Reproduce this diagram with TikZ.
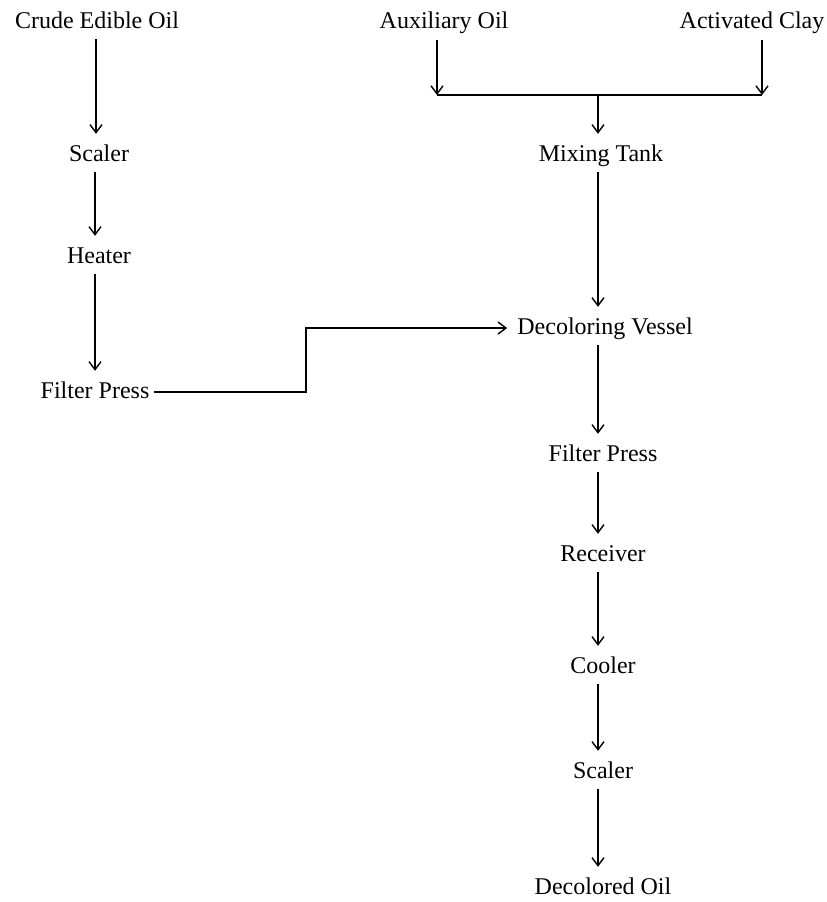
\documentclass[tikz,border=0pt]{standalone}
\usepackage{fontspec}
\setmainfont{Liberation Serif}
\usetikzlibrary{arrows.meta}
\tikzset{
  lbl/.style={inner sep=0pt, text height=17pt, text depth=5pt, font=\fontsize{24}{28}\selectfont},
  flow/.style={line width=1.4pt, -{Straight Barb[length=8pt,width=12pt,line width=1.4pt]}, shorten <=6pt, shorten >=10pt},
  feed/.style={line width=1.4pt, -{Straight Barb[length=8pt,width=12pt,line width=1.4pt]}},
  pipe/.style={line width=1.4pt}
}
\begin{document}
\begin{tikzpicture}[x=1pt,y=-1pt]
\useasboundingbox (0,0) rectangle (827,902);
% left column
\node[lbl] (crude) at (97,22) {Crude Edible Oil};
\node[lbl] (scl1) at (99,155) {Scaler};
\node[lbl] (heat) at (99,257) {Heater};
\node[lbl] (fp1) at (95,392) {Filter Press};
% top right
\node[lbl] (aux) at (444,22) {Auxiliary Oil};
\node[lbl] (clay) at (752,22) {Activated Clay};
% main column
\node[lbl] (mix) at (601,155) {Mixing Tank};
\node[lbl] (dv) at (605,328) {Decoloring Vessel};
\node[lbl] (fp2) at (603,455) {Filter Press};
\node[lbl] (recv) at (603,555) {Receiver};
\node[lbl] (cool) at (603,667) {Cooler};
\node[lbl] (scl2) at (603,772) {Scaler};
\node[lbl] (dec) at (603,888) {Decolored Oil};
% junction points
\coordinate (jl) at (437,95);
\coordinate (jr) at (762,95);
\coordinate (jm) at (598,95);
\coordinate (bendx) at (306,0);
% left chain
\draw[flow] (crude.south -| 96,0) -- (scl1.north -| 96,0);
\draw[flow] (scl1.south -| 95,0) -- (heat.north -| 95,0);
\draw[flow] (heat.south -| 95,0) -- (fp1.north -| 95,0);
\draw[flow, shorten <=4pt] (fp1.east) -- (fp1.east -| bendx) |- (dv.west);
% feeds
\draw[feed] (aux.south -| jl) ++(0,7) -- (jl);
\draw[feed] (clay.south -| jr) ++(0,7) -- (jr);
\draw[pipe] (jl) -- (jr);
\draw[flow, shorten <=0pt] (jm) -- (mix.north -| jm);
% main chain
\draw[flow] (mix.south -| jm) -- (dv.north -| jm);
\draw[flow] (dv.south -| jm) -- (fp2.north -| jm);
\draw[flow] (fp2.south -| jm) -- (recv.north -| jm);
\draw[flow] (recv.south -| jm) -- (cool.north -| jm);
\draw[flow] (cool.south -| jm) -- (scl2.north -| jm);
\draw[flow] (scl2.south -| jm) -- (dec.north -| jm);
\end{tikzpicture}
\end{document}
